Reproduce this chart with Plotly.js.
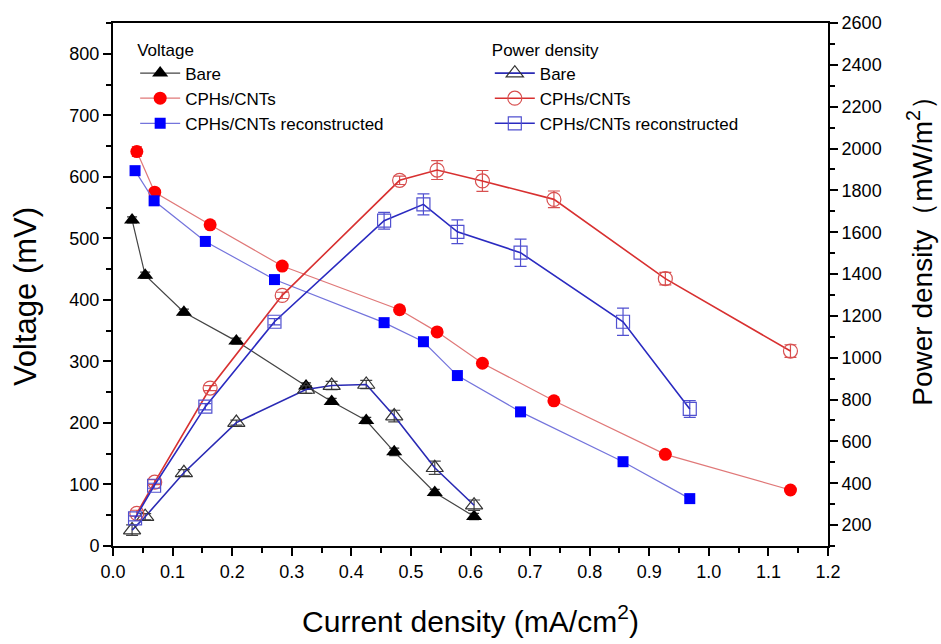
<!DOCTYPE html>
<html>
<head>
<meta charset="utf-8">
<script src="https://cdn.plot.ly/plotly-3.0.1.min.js"></script>
<style>html,body{margin:0;padding:0;background:#fff;}#chart{width:941px;height:644px;}</style>
</head>
<body>
<div id="chart"></div>
<script>
// ---- Data ----
// Voltage (mV) vs current density (mA/cm2)
const bareI      = [0.032, 0.054, 0.119, 0.207, 0.324, 0.367, 0.425, 0.472, 0.540, 0.606];
const bareV      = [530, 440, 380, 333, 260, 235, 204, 153, 87, 48];
const bareVerr   = [5, 5, 5, 5, 5, 5, 5, 6, 5, 5];

const cphI       = [0.040, 0.070, 0.163, 0.284, 0.481, 0.544, 0.620, 0.740, 0.927, 1.137];
const cphV       = [641, 575, 522, 455, 384, 348, 297, 236, 149, 91];
const cphVerr    = [8, 5, 4, 4, 4, 4, 4, 4, 4, 4];

const recI       = [0.037, 0.069, 0.155, 0.271, 0.455, 0.521, 0.578, 0.684, 0.856, 0.968];
const recV       = [610, 561, 495, 433, 363, 332, 277, 218, 137, 77];
const recVerr    = [6, 7, 5, 4, 4, 4, 4, 4, 4, 4];

// Power density (mW/m2)
const bareP      = [176, 240, 450, 690, 848, 867, 872, 721, 474, 295];
const barePerr   = [25, 15, 15, 12, 18, 20, 20, 28, 32, 25];
const cphP       = [256, 405, 855, 1298, 1848, 1897, 1845, 1757, 1378, 1032];
const cphPerr    = [15, 12, 12, 15, 20, 45, 50, 40, 30, 30];
const recP       = [232, 388, 766, 1172, 1655, 1733, 1602, 1502, 1172, 755];
const recPerr    = [12, 12, 15, 15, 40, 50, 57, 65, 65, 40];

const xTitle  = 'Current density (mA/cm<sup>2</sup>)';
const yTitle  = 'Voltage (mV)';
const y2Title = 'Power density（mW/m<sup>2</sup>）';

const FONT = "Liberation Sans, Arial, Helvetica, sans-serif";

function vTrace(name, x, y, err, lineColor, markerColor, symbol, size, errColor) {
  return {
    type: 'scatter', mode: 'lines+markers', name: name, x: x, y: y,
    yaxis: 'y', legend: 'legend',
    line: {color: lineColor, width: 1.2},
    marker: {color: markerColor, symbol: symbol, size: size, line: {width: 0}},
    error_y: {type: 'data', array: err, visible: true, color: errColor, thickness: 1.2, width: 5}
  };
}
function pTrace(name, x, y, err, lineColor, markerColor, symbol, size, errColor) {
  return {
    type: 'scatter', mode: 'lines+markers', name: name, x: x, y: y,
    yaxis: 'y2', legend: 'legend2',
    line: {color: lineColor, width: 1.6},
    marker: {color: markerColor, symbol: symbol, size: size, line: {color: markerColor, width: 1.2}},
    error_y: {type: 'data', array: err, visible: true, color: errColor, thickness: 1.2, width: 6}
  };
}

const traces = [
  vTrace('Bare', bareI, bareV, bareVerr, '#444444', '#000000', 'triangle-up', 14, '#333333'),
  vTrace('CPHs/CNTs', cphI, cphV, cphVerr, '#e07878', '#ff0000', 'circle', 13, '#e05050'),
  vTrace('CPHs/CNTs reconstructed', recI, recV, recVerr, '#7474dc', '#0000ff', 'square', 11, '#5050e0'),
  pTrace('Bare', bareI, bareP, barePerr, '#2a2ab4', '#333333', 'triangle-up-open', 15, '#444444'),
  pTrace('CPHs/CNTs', cphI, cphP, cphPerr, '#d83030', '#d85050', 'circle-open', 14, '#d85050'),
  pTrace('CPHs/CNTs reconstructed', recI, recP, recPerr, '#2a2ac0', '#5050d0', 'square-open', 13, '#5050d0')
];

const axisCommon = {
  showline: true, linecolor: '#000', linewidth: 2,
  ticks: 'outside', ticklen: 8, tickwidth: 2, tickcolor: '#000',
  showgrid: false, zeroline: false,
  tickfont: {family: FONT, size: 18, color: '#000'}
};

const layout = {
  width: 941, height: 644,
  margin: {l: 113, r: 113, t: 23, b: 98},
  paper_bgcolor: '#fff', plot_bgcolor: '#fff',
  font: {family: FONT, color: '#000'},
  showlegend: true,
  xaxis: Object.assign({}, axisCommon, {
    range: [0, 1.2], tick0: 0, dtick: 0.1, tickformat: '.1f', mirror: true,
    minor: {dtick: 0.05, ticklen: 5, tickwidth: 2, tickcolor: '#000', ticks: 'outside'},
    title: {text: xTitle, font: {family: FONT, size: 30, color: '#000'}, standoff: 30}
  }),
  yaxis: Object.assign({}, axisCommon, {
    range: [0, 850], tick0: 0, dtick: 100,
    minor: {dtick: 50, ticklen: 5, tickwidth: 2, tickcolor: '#000', ticks: 'outside'}
  }),
  yaxis2: Object.assign({}, axisCommon, {
    overlaying: 'y', side: 'right',
    range: [100, 2600], tick0: 200, dtick: 200,
    minor: {dtick: 100, ticklen: 5, tickwidth: 2, tickcolor: '#000', ticks: 'outside'}
  }),
  annotations: [
    {text: yTitle, xref: 'paper', yref: 'paper', x: -0.123, y: 0.476, textangle: -90,
     showarrow: false, xanchor: 'center', yanchor: 'middle',
     font: {family: FONT, size: 31, color: '#000'}},
    {text: y2Title, xref: 'paper', yref: 'paper', x: 1.1287, y: 0.578, textangle: -90,
     showarrow: false, xanchor: 'center', yanchor: 'middle',
     font: {family: FONT, size: 28, color: '#000'}}
  ],
  legend: {
    x: 0.031, y: 0.98, xanchor: 'left', yanchor: 'top',
    bgcolor: 'rgba(0,0,0,0)', borderwidth: 0, itemwidth: 40, tracegroupgap: 0,
    font: {family: FONT, size: 17, color: '#000'},
    title: {text: 'Voltage', font: {family: FONT, size: 17, color: '#000'}}
  },
  legend2: {
    x: 0.527, y: 0.98, xanchor: 'left', yanchor: 'top',
    bgcolor: 'rgba(0,0,0,0)', borderwidth: 0, itemwidth: 40, tracegroupgap: 0,
    font: {family: FONT, size: 17, color: '#000'},
    title: {text: 'Power density', font: {family: FONT, size: 17, color: '#000'}}
  }
};

Plotly.newPlot('chart', traces, layout, {displayModeBar: false, staticPlot: true});
</script>
</body>
</html>
